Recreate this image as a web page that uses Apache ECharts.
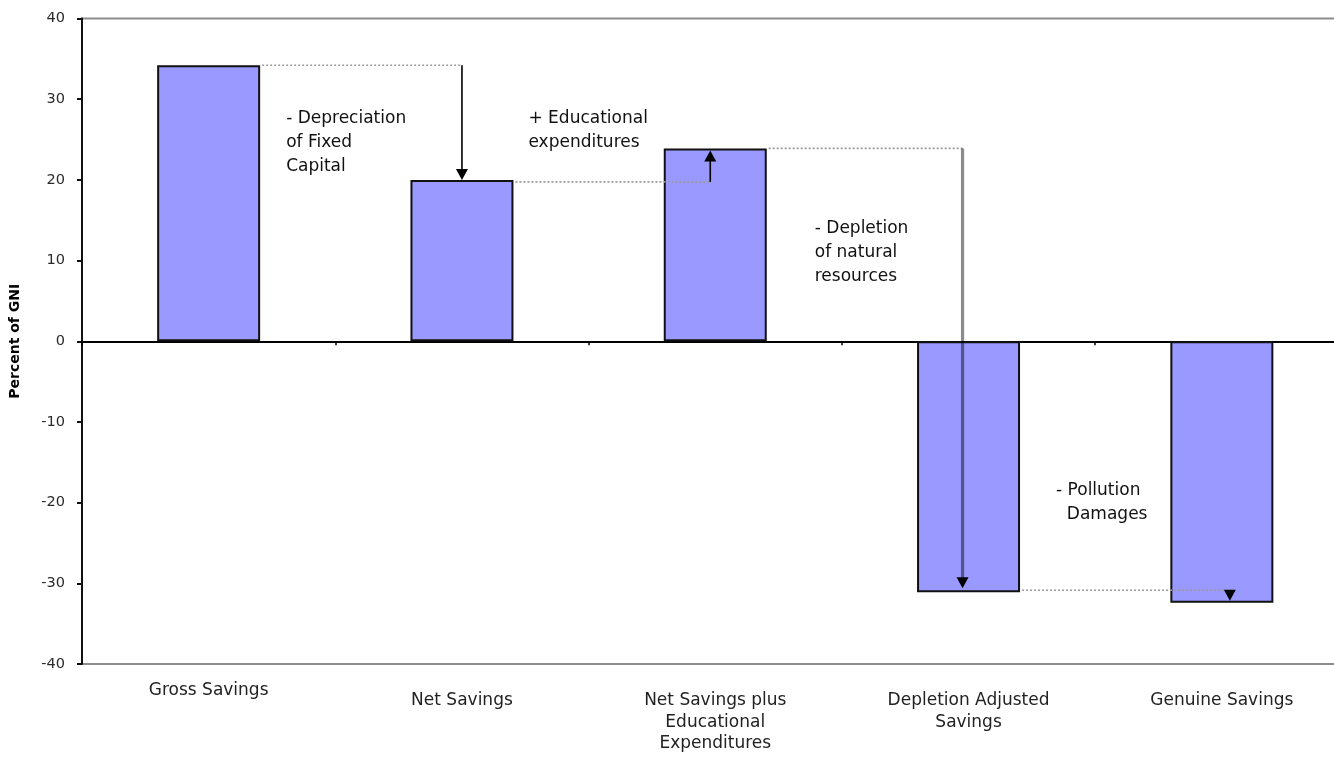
<!DOCTYPE html>
<html>
<head>
<meta charset="utf-8">
<title>Genuine Savings</title>
<script src="https://cdn.jsdelivr.net/npm/echarts@6/dist/echarts.min.js"></script>
<style>
  html, body { margin: 0; padding: 0; background: #ffffff; overflow: hidden; }
  /* the plot frame runs slightly past the right edge of the page */
  #chart { width: 1350px; height: 759px; }
</style>
</head>
<body>
<div id="chart"></div>
<script>
// Savings measures, percent of GNI
const categories = [
  'Gross Savings',
  'Net Savings',
  'Net Savings plus\nEducational\nExpenditures',
  'Depletion Adjusted\nSavings',
  'Genuine Savings'
];
const savingsValues = [34.2, 20.0, 23.9, -31.1, -32.4];

// Adjustment applied between each pair of consecutive bars
const adjustmentLabels = [
  '- Depreciation\nof Fixed\nCapital',
  '+ Educational\nexpenditures',
  '- Depletion\nof natural\nresources',
  '- Pollution\n  Damages'
];

const yTicks = { min: -40, max: 40, interval: 10 };

// Drawing layout for the step connectors (pixel offsets / value anchors)
const FONT = '"DejaVu Sans", "Liberation Sans", Arial, sans-serif';
const BAR_WIDTH = 103;
const stepLayout = [
  { arrowDx: 0,  style: 'solid', textDx: 26, textY: 27.6 },
  { arrowDx: -5, style: 'solid', textDx: 15, textY: 27.6 },
  { arrowDx: -6, style: 'faded', textDx: 48, textY: 14.0 },
  { arrowDx: 8,  style: 'head',  textDx: 36, textY: -18.5 }
];

const chart = echarts.init(document.getElementById('chart'), null, { renderer: 'canvas' });

function arrowHead(x, tipY, dir, fill) {
  // dir = 1 points down, -1 points up
  const len = 11, half = 6;
  return {
    type: 'polygon',
    shape: { points: [[x, tipY], [x - half, tipY - dir * len], [x + half, tipY - dir * len]] },
    style: { fill: fill }
  };
}

function renderStep(params, api) {
  const i = api.value(0);
  const L = stepLayout[i];
  const fromVal = savingsValues[i];
  const toVal = savingsValues[i + 1];
  const fromPt = api.coord([i, fromVal]);
  const toPt = api.coord([i + 1, toVal]);
  const startX = fromPt[0] + BAR_WIDTH / 2;
  const ax = toPt[0] + L.arrowDx;
  const guideY = fromPt[1] + (i === 1 ? 2 : 0) + (i === 3 ? -2 : 0);
  const y1 = toPt[1];
  const dir = y1 > fromPt[1] ? 1 : -1;
  const children = [];

  // dotted guide from the previous bar's end level
  children.push({
    type: 'line',
    shape: { x1: startX + 2, y1: guideY, x2: ax + (L.style === 'head' ? 2 : 0), y2: guideY },
    style: { stroke: '#9a9a9a', lineWidth: 1.6, lineDash: [2, 2] }
  });

  if (L.style === 'solid') {
    const tip = y1 + (dir > 0 ? 0 : 2);
    children.push({
      type: 'line',
      shape: { x1: ax, y1: guideY, x2: ax, y2: tip - dir * 8 },
      style: { stroke: '#000', lineWidth: 1.6 }
    });
    children.push(arrowHead(ax, tip, dir, '#000'));
  } else if (L.style === 'faded') {
    const tip = y1 - 4;
    children.push({
      type: 'line',
      shape: { x1: ax, y1: guideY, x2: ax, y2: tip - 8 },
      style: { stroke: 'rgba(0,0,0,0.45)', lineWidth: 3.2 }
    });
    children.push(arrowHead(ax, tip, 1, '#000'));
  } else {
    // arrowhead only, from the previous level down to the next bar's end
    children.push(arrowHead(ax, y1 - 2, 1, '#000'));
  }

  // adjustment caption
  const textTop = api.coord([i, L.textY])[1] - 12;
  children.push({
    type: 'text',
    style: {
      text: adjustmentLabels[i],
      x: startX + L.textDx,
      y: textTop,
      fill: '#111',
      font: '17px ' + FONT,
      lineHeight: 24,
      align: 'left',
      verticalAlign: 'top'
    }
  });

  return { type: 'group', children: children };
}

const option = {
  animation: false,
  backgroundColor: '#ffffff',
  grid: {
    left: 80,
    right: 1.5,
    top: 18.5,
    bottom: 95,
    show: true,
    borderColor: '#8c8c8c',
    borderWidth: 2,
    backgroundColor: 'transparent'
  },
  xAxis: [
    {
      type: 'category',
      position: 'bottom',
      data: categories.map((c, k) => k === 0 ? c : { value: c, textStyle: { padding: [10, 0, 0, 0] } }),
      axisLine: { show: false, onZero: false },
      axisTick: { show: false },
      axisLabel: {
        interval: 0,
        margin: 16,
        color: '#222',
        fontSize: 17,
        lineHeight: 21.5,
        fontFamily: FONT
      },
      splitLine: { show: false }
    },
    {
      type: 'category',
      position: 'top',
      data: categories,
      axisLine: { show: true, onZero: true, lineStyle: { color: '#000', width: 2 } },
      axisTick: { show: true, inside: true, length: 4, lineStyle: { color: '#000', width: 1.5 } },
      axisLabel: { show: false },
      splitLine: { show: false }
    }
  ],
  yAxis: {
    type: 'value',
    min: yTicks.min,
    max: yTicks.max,
    interval: yTicks.interval,
    name: 'Percent of GNI',
    nameLocation: 'middle',
    nameGap: 60,
    nameTextStyle: {
      color: '#000',
      fontWeight: 'bold',
      fontSize: 14,
      fontFamily: FONT
    },
    axisLine: { show: true, onZero: false, lineStyle: { color: '#111', width: 2 } },
    axisTick: { show: true, length: 5, lineStyle: { color: '#111', width: 2 } },
    axisLabel: {
      margin: 17,
      color: '#2a2a2a',
      fontSize: 14.5,
      fontFamily: FONT
    },
    splitLine: { show: false }
  },
  series: [
    {
      type: 'bar',
      xAxisIndex: 0,
      yAxisIndex: 0,
      data: savingsValues,
      barWidth: BAR_WIDTH,
      itemStyle: { color: '#9999ff', borderColor: '#111', borderWidth: 2 },
      z: 2
    },
    {
      type: 'custom',
      xAxisIndex: 0,
      yAxisIndex: 0,
      data: [[0], [1], [2], [3]],
      renderItem: renderStep,
      clip: false,
      silent: true,
      z: 5
    }
  ]
};

chart.setOption(option);
</script>
</body>
</html>
